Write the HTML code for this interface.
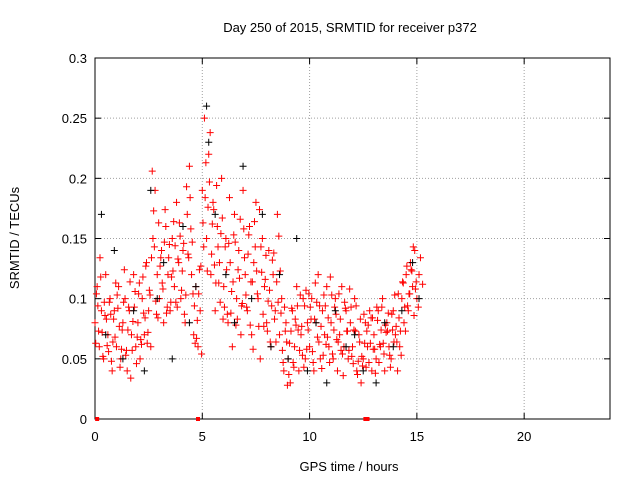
<!DOCTYPE html>
<html><head><meta charset="utf-8"><style>
body{margin:0;background:#fff}
svg text{font-family:"Liberation Sans",sans-serif;font-size:13px;fill:#000}
</style></head><body>
<svg id="chart" width="640" height="480" xmlns="http://www.w3.org/2000/svg">
<rect width="640" height="480" fill="#fff"/>
<g id="grid"></g>
<g id="axes"></g>
<g id="marks"></g>
<text x="350" y="32" text-anchor="middle">Day 250 of 2015, SRMTID for receiver p372</text>
<text x="349" y="471" text-anchor="middle">GPS time / hours</text>
<text transform="translate(19,238) rotate(-90)" text-anchor="middle">SRMTID / TECUs</text>
</svg>
<script>
const xTicks=[0,5,10,15,20];
const yTicks=[0,0.05,0.1,0.15,0.2,0.25,0.3];
const yTickLabels=["0","0.05","0.1","0.15","0.2","0.25","0.3"];
const redA=[.08,.11,.06,.09,.05,.12,.07,.10,.04,.09,.06,.11,.05,.08,.10,.04,.09,.07,.12,.06,.08,.05,.10,.07,.13,.09,.06,.15,.19,.12,.10,.14,.08,.16,.12,.09,.15,.11,.18,.13,.10,.14,.08,.17,.21,.12,.07,.11,.06,.09,.19,.25,.15,.22,.12,.18,.09,.16,.13,.20,.11,.15,.08,.13,.06,.17,.10,.14,.07,.19,.12,.09,.16,.07,.13,.18,.10,.05,.15,.11,.08,.14,.06,.12,.09,.17,.07,.10,.04,.08,.05,.03,.09,.06,.11,.04,.07,.10,.05,.08,.06,.10,.04,.08,.12,.05,.09,.07,.11,.06,.08,.05,.10,.04,.07,.11,.06,.09,.05,.08,.06,.10,.04,.07,.03,.05,.08,.06,.09,.04,.07,.05,.09,.06,.10,.04,.08,.06,.05,.09,.07,.04,.06,.10,.08,.12,.09,.13,.11,.14,.10,.12];
const redB=[.104,.073,.118,.052,.086,.061,.097,.048,.083,.113,.092,.043,.074,.124,.057,.093,.034,.081,.106,.068,.113,.062,.088,.127,.072,.103,.206,.143,.087,.163,.134,.108,.174,.093,.145,.118,.164,.097,.133,.152,.123,.087,.193,.134,.158,.104,.063,.082,.124,.054,.143,.213,.176,.238,.162,.128,.194,.113,.154,.083,.143,.087,.184,.106,.153,.078,.124,.166,.096,.134,.093,.153,.114,.058,.143,.104,.174,.122,.077,.136,.098,.064,.132,.083,.114,.152,.088,.047,.073,.028,.063,.092,.043,.078,.074,.103,.053,.094,.058,.104,.083,.047,.113,.068,.094,.042,.103,.062,.084,.118,.054,.093,.066,.104,.057,.036,.092,.073,.108,.052,.074,.094,.048,.083,.044,.063,.073,.047,.084,.058,.038,.082,.062,.093,.054,.072,.088,.043,.074,.103,.064,.084,.053,.113,.073,.094,.104,.123,.086,.114,.093,.134,.112];
const redC=[.063,.094,.134,.072,.097,.083,.056,.087,.064,.068,.103,.077,.058,.097,.053,.074,.114,.057,.093,.046,.104,.066,.118,.084,.063,.107,.134,.173,.098,.084,.127,.113,.147,.088,.134,.097,.123,.144,.093,.163,.107,.146,.103,.137,.184,.147,.094,.067,.104,.127,.163,.184,.123,.197,.137,.174,.113,.143,.097,.167,.093,.124,.146,.088,.114,.147,.083,.117,.094,.158,.103,.137,.078,.114,.164,.123,.077,.143,.087,.116,.073,.107,.094,.138,.064,.097,.123,.057,.093,.064,.037,.073,.047,.083,.094,.057,.077,.043,.107,.074,.093,.056,.083,.097,.064,.077,.053,.094,.068,.047,.103,.074,.087,.064,.083,.054,.097,.073,.057,.093,.046,.073,.037,.064,.052,.087,.043,.078,.063,.084,.058,.093,.047,.074,.063,.078,.073,.053,.087,.064,.077,.104,.073,.114,.093,.127,.104,.124,.143,.108];
const blackT=[0.3,0.5,0.9,1.3,1.8,2.3,2.6,2.9,3.2,3.6,4.1,4.4,4.7,5.2,5.3,5.6,6.1,6.5,6.9,7.3,7.8,8.2,8.6,9.0,9.4,9.9,10.3,10.8,11.2,11.7,12.1,12.5,13.1,13.5,13.9,14.3,14.8,15.1];
const blackV=[.17,.07,.14,.05,.09,.04,.19,.10,.13,.05,.16,.08,.11,.26,.23,.17,.12,.08,.21,.10,.17,.06,.12,.05,.15,.04,.08,.03,.09,.06,.07,.04,.03,.08,.06,.09,.13,.10];
const flagT=[0.1,4.8,12.6,12.7];
const X0=95,X1=610,Y0=419,Y1=58;
const xs=t=>X0+(X1-X0)*t/24, ys=v=>Y0-(Y0-Y1)*v/0.3;
const NS="http://www.w3.org/2000/svg";
function mk(tag,at,parent){const e=document.createElementNS(NS,tag);for(const k in at)e.setAttribute(k,at[k]);parent.appendChild(e);return e;}
const grid=document.getElementById('grid'),axes=document.getElementById('axes'),marks=document.getElementById('marks');
yTicks.forEach((v,i)=>{const y=ys(v);
 if(i>0&&i<yTicks.length-1){const g=mk('line',{x1:X0,x2:X1,y1:y,y2:y,stroke:'#a0a0a0','stroke-dasharray':'1,2'},grid);
 
 }
 mk('line',{x1:X0,x2:X0+6,y1:y,y2:y,stroke:'#000'},axes);mk('line',{x1:X1,x2:X1-6,y1:y,y2:y,stroke:'#000'},axes);
 const t=mk('text',{x:X0-8,y:y+5,'text-anchor':'end'},axes);t.textContent=yTickLabels[i];
 
 });
xTicks.forEach(v=>{const x=xs(v);
 if(v>0){const g=mk('line',{x1:x,x2:x,y1:Y0,y2:Y1,stroke:'#a0a0a0','stroke-dasharray':'1,2'},grid);
 
 }
 mk('line',{x1:x,x2:x,y1:Y0,y2:Y0-6,stroke:'#000'},axes);mk('line',{x1:x,x2:x,y1:Y1,y2:Y1+6,stroke:'#000'},axes);
 const t=mk('text',{x:x,y:Y0+22,'text-anchor':'middle'},axes);t.textContent=String(v);
 
 });
mk('rect',{x:X0,y:Y1,width:X1-X0,height:Y0-Y1,fill:'none',stroke:'#000'},axes);
function plus(t,v,c){const x=xs(t),y=ys(v);
 const p=mk('path',{d:`M${x-3.5},${y}h7M${x},${y-3.5}v7`,stroke:c,'stroke-width':1,fill:'none'},marks);
 
 }
redA.forEach((v,i)=>plus(i*0.1,v,'#f00'));
redB.forEach((v,i)=>plus(i*0.1+0.067,v,'#f00'));
redC.forEach((v,i)=>plus(i*0.1+0.033,v,'#f00'));
blackT.forEach((t,i)=>plus(t,blackV[i],'#000'));
flagT.forEach(t=>{const r=mk('rect',{x:xs(t)-2,y:Y0-2,width:4,height:4,fill:'#f00'},marks);
 
 });
</script>
</body></html>
